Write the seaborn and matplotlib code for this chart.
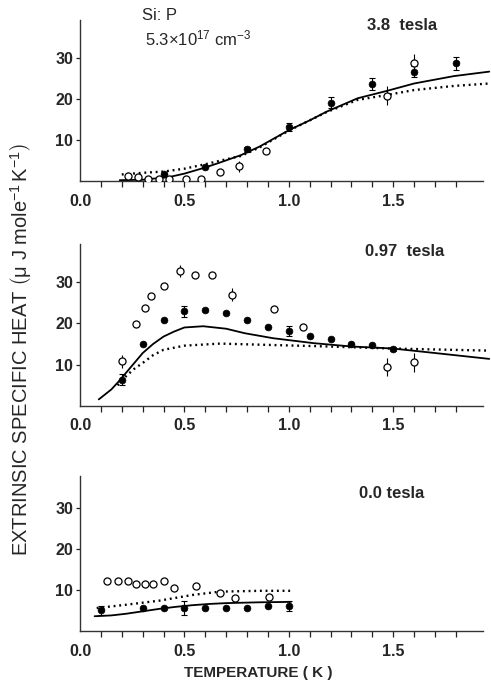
"""Si:P extrinsic specific heat vs temperature at three magnetic fields."""

import matplotlib

matplotlib.use("Agg")
import matplotlib.pyplot as plt
import seaborn as sns

# ---- 3.8 tesla ----
HI_OPEN_T = [0.23, 0.28, 0.325, 0.38, 0.425, 0.51, 0.58, 0.67, 0.76, 0.89, 1.47, 1.60]
HI_OPEN_C = [1.2, 1.0, 0.6, 0.6, 0.4, 0.5, 0.5, 2.2, 3.6, 7.3, 20.8, 28.9]
HI_OPEN_ERR = [0, 0, 0, 0, 0, 0, 0, 0, 1.4, 0, 2.3, 2.2]
HI_FILL_T = [0.4, 0.6, 0.8, 1.0, 1.2, 1.4, 1.6, 1.8]
HI_FILL_C = [1.6, 3.3, 7.8, 13.2, 19.1, 23.7, 26.7, 28.7]
HI_FILL_ERR = [0, 0, 0.6, 1.05, 1.3, 1.4, 1.4, 1.5]
HI_SOLID_T = [0.19, 0.3, 0.43, 0.5, 0.6, 0.67, 0.77, 0.86, 1.0, 1.1, 1.18, 1.33, 1.47, 1.6, 1.79, 1.96]
HI_SOLID_C = [0.2, 0.3, 1.0, 1.8, 3.3, 4.5, 6.3, 8.4, 12.4, 14.8, 16.9, 20.2, 22.0, 23.8, 25.6, 26.7]
HI_DOT_T = [0.2, 0.3, 0.4, 0.5, 0.6, 0.7, 0.77, 0.86, 1.0, 1.18, 1.33, 1.47, 1.6, 1.79, 1.96]
HI_DOT_C = [1.6, 2.0, 2.3, 3.0, 4.1, 5.3, 6.1, 8.2, 12.3, 16.8, 19.8, 21.0, 22.2, 23.2, 23.8]

# ---- 0.97 tesla ----
MID_OPEN_T = [0.2, 0.27, 0.31, 0.34, 0.40, 0.48, 0.55, 0.63, 0.73, 0.93, 1.07, 1.47, 1.60]
MID_OPEN_C = [10.8, 19.9, 23.8, 26.5, 29.1, 32.7, 31.8, 31.8, 26.9, 23.4, 19.0, 9.4, 10.6]
MID_OPEN_ERR = [1.6, 0, 0, 0, 0, 1.4, 0, 0, 1.6, 0, 0, 2.2, 2.3]
MID_FILL_T = [0.2, 0.3, 0.4, 0.5, 0.6, 0.7, 0.8, 0.9, 1.0, 1.1, 1.2, 1.3, 1.4, 1.5]
MID_FILL_C = [6.4, 14.9, 20.8, 22.9, 23.2, 22.5, 20.8, 19.2, 18.1, 17.0, 16.2, 15.0, 14.7, 13.8]
MID_FILL_ERR = [1.4, 0, 0, 1.4, 0, 0, 0, 0, 1.2, 0, 0, 0, 0, 0.5]
MID_SOLID_T = [0.09, 0.15, 0.19, 0.25, 0.3, 0.35, 0.4, 0.45, 0.5, 0.59, 0.7, 0.79, 0.925, 1.12, 1.3, 1.5, 1.74, 1.96]
MID_SOLID_C = [1.6, 4.0, 6.2, 9.8, 12.8, 15.0, 16.8, 18.0, 19.0, 19.3, 18.7, 17.6, 16.4, 15.2, 14.4, 13.9, 12.6, 11.4]
MID_DOT_T = [0.18, 0.22, 0.26, 0.3, 0.35, 0.4, 0.5, 0.67, 0.89, 1.19, 1.5, 1.96]
MID_DOT_C = [5.0, 7.2, 9.0, 10.4, 12.3, 13.6, 14.6, 15.1, 14.8, 14.4, 13.9, 13.4]

# ---- 0.0 tesla ----
LO_OPEN_T = [0.13, 0.18, 0.23, 0.27, 0.31, 0.35, 0.40, 0.45, 0.555, 0.67, 0.74, 0.905]
LO_OPEN_C = [12.2, 12.2, 12.3, 11.5, 11.4, 11.4, 12.2, 10.6, 11.0, 9.3, 8.0, 8.3]
LO_FILL_T = [0.1, 0.3, 0.4, 0.5, 0.6, 0.7, 0.8, 0.9, 1.0]
LO_FILL_C = [5.0, 5.7, 5.7, 5.7, 5.7, 5.7, 5.7, 6.2, 6.1]
LO_FILL_ERR = [1.1, 0, 0, 1.7, 0, 0, 0, 0, 1.2]
LO_SOLID_T = [0.07, 0.15, 0.22, 0.3, 0.38, 0.46, 0.54, 0.62, 0.7, 0.86, 1.01]
LO_SOLID_C = [3.6, 3.8, 4.2, 4.8, 5.4, 5.9, 6.3, 6.6, 6.8, 7.0, 7.1]
LO_DOT_T = [0.08, 0.22, 0.38, 0.54, 0.67, 0.86, 1.01]
LO_DOT_C = [5.6, 6.4, 7.4, 8.8, 9.6, 9.8, 9.8]

X_LABELS = ["0.0", "0.5", "1.0", "1.5"]
Y_TICKS = [10, 20, 30]
FONT = "Liberation Sans"


def draw_panel(ax, solid, dotted, open_pts, fill_pts, ytop, label, label_xy):
    sns.lineplot(x=solid[0], y=solid[1], ax=ax, color="black", linewidth=1.3,
                 sort=False, estimator=None, clip_on=False)
    sns.lineplot(x=dotted[0], y=dotted[1], ax=ax, color="black", linewidth=1.7,
                 linestyle=(0, (0.8, 1.6)), sort=False, estimator=None, clip_on=False)
    if open_pts[2] is not None:
        ax.errorbar(open_pts[0], open_pts[1], yerr=open_pts[2], fmt="none",
                    ecolor="black", elinewidth=0.8, capsize=0, zorder=3)
    if fill_pts[2] is not None:
        ax.errorbar(fill_pts[0], fill_pts[1], yerr=fill_pts[2], fmt="none",
                    ecolor="black", elinewidth=0.8, capsize=2, capthick=0.8, zorder=3)
    sns.scatterplot(x=open_pts[0], y=open_pts[1], ax=ax, s=26, marker="o",
                    facecolor="white", edgecolor="black", linewidth=0.9, zorder=4)
    sns.scatterplot(x=fill_pts[0], y=fill_pts[1], ax=ax, s=24, marker="o",
                    color="black", edgecolor="black", linewidth=0.5, zorder=4)

    ax.set_xlim(0, 1.93)
    ax.set_ylim(0, ytop)
    ax.set_xticks([0.0, 0.5, 1.0, 1.5])
    ax.set_xticklabels(X_LABELS, fontsize=11.5, fontweight="bold")
    ax.set_xticks([0.1 * i for i in range(1, 19) if i % 5], minor=True)
    ax.set_yticks(Y_TICKS)
    ax.set_yticklabels([str(v) for v in Y_TICKS], fontsize=11.5, fontweight="bold")
    ax.tick_params(axis="x", which="both", bottom=True, direction="out",
                   length=4, width=0.9, pad=5, color="#222222")
    ax.tick_params(axis="y", which="major", left=True, direction="out",
                   length=3, width=0.9, pad=2, color="#222222")
    ax.xaxis.get_major_ticks()[0].tick1line.set_visible(False)
    ax.set_xlabel("")
    ax.set_ylabel("")
    for side in ["top", "right"]:
        ax.spines[side].set_visible(False)
    for side in ["left", "bottom"]:
        ax.spines[side].set_linewidth(1.0)
        ax.spines[side].set_color("#333333")
    ax.text(label_xy[0], label_xy[1], label, transform=ax.figure.transFigure,
            ha="center", va="center", fontsize=12, fontweight="bold")


def main():
    sns.set_theme(style="white")
    plt.rcParams["font.family"] = [FONT, "DejaVu Sans"]
    plt.rcParams["mathtext.fontset"] = "custom"
    plt.rcParams["mathtext.rm"] = FONT
    plt.rcParams["mathtext.it"] = FONT
    plt.rcParams["mathtext.bf"] = FONT + ":bold"

    W, H = 491, 687
    fig = plt.figure(figsize=(W / 100, H / 100), dpi=100)
    left, width = 80 / W, 403 / W
    ax_hi = fig.add_axes([left, 1 - 181 / H, width, 161 / H])
    ax_mid = fig.add_axes([left, 1 - 406 / H, width, 162 / H])
    ax_lo = fig.add_axes([left, 1 - 631 / H, width, 155 / H])

    draw_panel(ax_hi, (HI_SOLID_T, HI_SOLID_C), (HI_DOT_T, HI_DOT_C),
               (HI_OPEN_T, HI_OPEN_C, HI_OPEN_ERR), (HI_FILL_T, HI_FILL_C, HI_FILL_ERR),
               39.3, "3.8  tesla", (402 / W, 1 - 25 / H))
    draw_panel(ax_mid, (MID_SOLID_T, MID_SOLID_C), (MID_DOT_T, MID_DOT_C),
               (MID_OPEN_T, MID_OPEN_C, MID_OPEN_ERR), (MID_FILL_T, MID_FILL_C, MID_FILL_ERR),
               39.2, "0.97  tesla", (405 / W, 1 - 252 / H))
    draw_panel(ax_lo, (LO_SOLID_T, LO_SOLID_C), (LO_DOT_T, LO_DOT_C),
               (LO_OPEN_T, LO_OPEN_C, None), (LO_FILL_T, LO_FILL_C, LO_FILL_ERR),
               37.8, "0.0 tesla", (392 / W, 1 - 493 / H))

    fig.text(142 / W, 1 - 15 / H, "Si: P", ha="left", va="center", fontsize=12)
    fig.text(145 / W, 1 - 38 / H, r"5.3$\times$10$^{17}$ cm$^{-3}$", ha="left",
             va="center", fontsize=12)
    fig.text(258 / W, 1 - 673 / H, "TEMPERATURE ( K )", ha="center", va="center",
             fontsize=11, fontweight="bold")
    fig.text(21 / W, 1 - 350 / H,
             r"EXTRINSIC SPECIFIC HEAT $\left(\mu\ \mathrm{J\ mole^{-1}\,K^{-1}}\right)$",
             ha="center", va="center", rotation=90, fontsize=14.5)

    fig.savefig("out.png", dpi=100)
    plt.close(fig)


if __name__ == "__main__":
    main()
